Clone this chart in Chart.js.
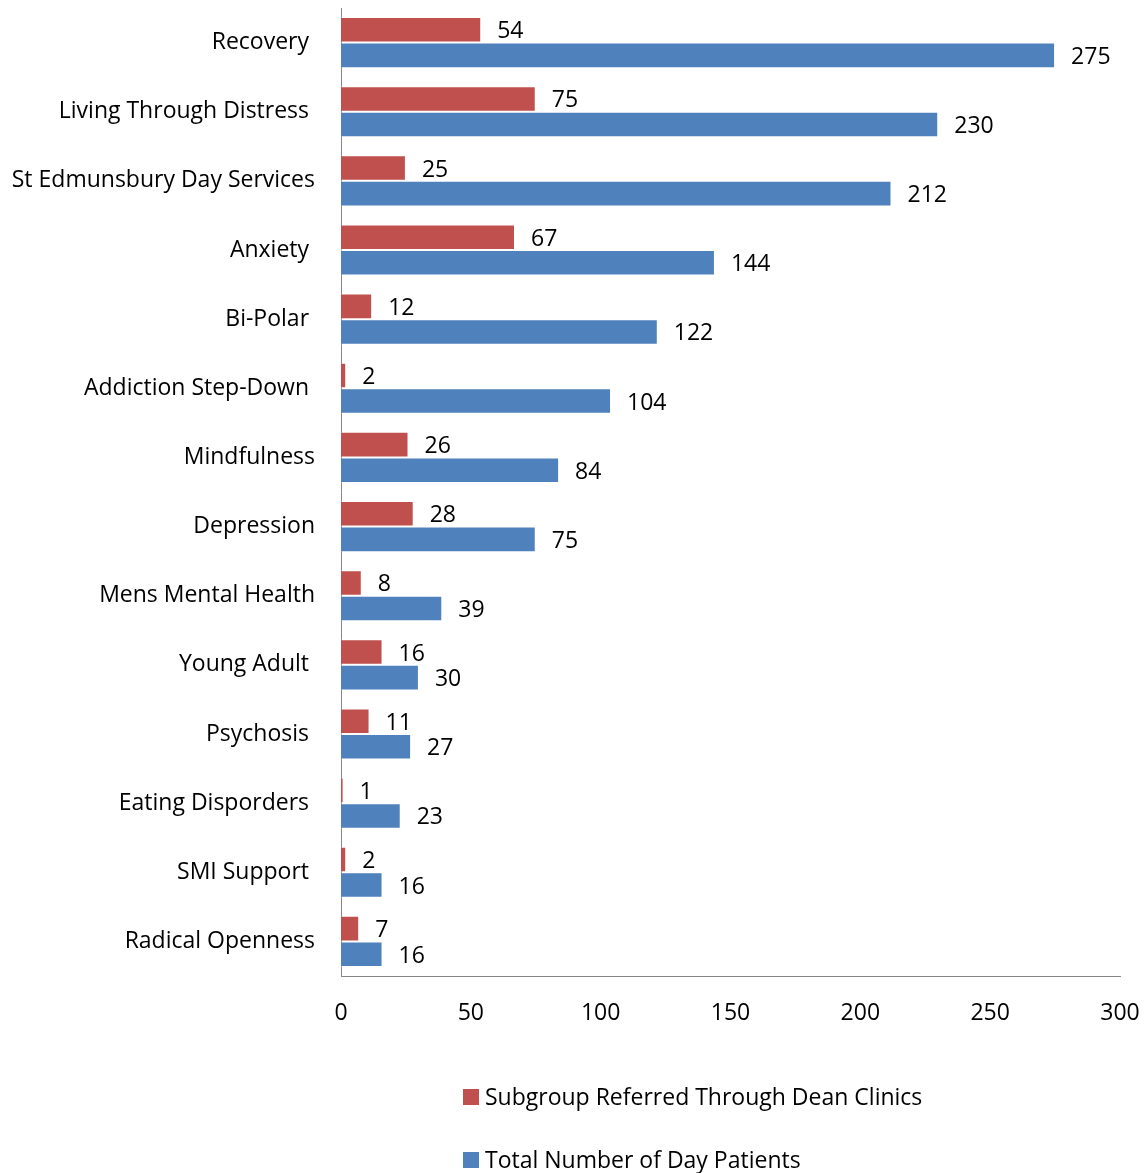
<!DOCTYPE html>
<html>
<head>
<meta charset="utf-8">
<script src="https://cdn.jsdelivr.net/npm/chart.js@4.4.1/dist/chart.umd.min.js"></script>
<style>
  html, body { margin: 0; padding: 0; background: #ffffff; }
  #wrap { position: relative; width: 1148px; height: 1173px; }
</style>
</head>
<body>
<div id="wrap"><canvas id="chart" width="1148" height="1173"></canvas></div>
<script>
// Day-service groups (some labels carry a trailing space as in the source sheet)
const categories = [
  "Recovery ", "Living Through Distress ", "St Edmunsbury Day Services", "Anxiety ",
  "Bi-Polar ", "Addiction Step-Down ", "Mindfulness", "Depression",
  "Mens Mental Health", "Young Adult ", "Psychosis ", "Eating Disporders ",
  "SMI Support ", "Radical Openness"
];
const subgroupLabel = "Subgroup Referred Through Dean Clinics";
const subgroupValues = [54, 75, 25, 67, 12, 2, 26, 28, 8, 16, 11, 1, 2, 7];
const totalLabel = "Total Number of Day Patients";
const totalValues = [275, 230, 212, 144, 122, 104, 84, 75, 39, 30, 27, 23, 16, 16];
const xTicks = [0, 50, 100, 150, 200, 250, 300];

const FONT = "'Open Sans', Lato, sans-serif";
const FONT_SIZE = 23;
const RED = "#C0504D";
const BLUE = "#4F81BD";

// Value printed just past the end of each bar
const valueLabels = {
  id: "valueLabels",
  afterDatasetsDraw(chart) {
    const ctx = chart.ctx;
    ctx.save();
    ctx.font = FONT_SIZE + "px " + FONT;
    ctx.fillStyle = "#000";
    ctx.textAlign = "left";
    ctx.textBaseline = "middle";
    chart.data.datasets.forEach((ds, i) => {
      const meta = chart.getDatasetMeta(i);
      meta.data.forEach((bar, j) => {
        ctx.fillText(String(ds.data[j]), bar.x + 16, bar.y + 2);
      });
    });
    ctx.restore();
  }
};

// Legend stacked in one column below the axis
const stackedLegend = {
  id: "stackedLegend",
  afterDraw(chart) {
    const ctx = chart.ctx;
    ctx.save();
    ctx.font = FONT_SIZE + "px " + FONT;
    ctx.textAlign = "left";
    ctx.textBaseline = "middle";
    const rows = [1097, 1160];
    chart.data.datasets.forEach((ds, i) => {
      const y = rows[i];
      ctx.fillStyle = ds.backgroundColor;
      ctx.fillRect(463, y - 8, 16, 16);
      ctx.fillStyle = "#000";
      ctx.fillText(ds.label, 485, y + 1);
    });
    ctx.restore();
  }
};

new Chart(document.getElementById("chart"), {
  type: "bar",
  data: {
    labels: categories,
    datasets: [
      { label: subgroupLabel, data: subgroupValues, backgroundColor: RED,
        borderColor: "rgba(255,255,255,0.35)", borderWidth: 1 },
      { label: totalLabel, data: totalValues, backgroundColor: BLUE,
        borderColor: "rgba(255,255,255,0.35)", borderWidth: 1 }
    ]
  },
  options: {
    indexAxis: "y",
    responsive: false,
    animation: false,
    events: [],
    layout: { padding: { top: 8, right: 28, bottom: 137, left: 0 } },
    datasets: { bar: { categoryPercentage: 0.74, barPercentage: 1.0 } },
    plugins: {
      legend: { display: false },
      tooltip: { enabled: false }
    },
    scales: {
      x: {
        min: 0, max: 300,
        afterBuildTicks(scale) { scale.ticks = xTicks.map(v => ({ value: v })); },
        afterFit(scale) { scale.height = 60; scale.paddingLeft = 0; scale.paddingRight = 0; },
        grid: { display: false, drawTicks: false },
        border: { display: true, color: "#868686", width: 1 },
        ticks: { color: "#000", font: { family: FONT, size: FONT_SIZE }, padding: 24, maxRotation: 0 }
      },
      y: {
        afterFit(scale) { scale.width = 341; scale.paddingTop = 0; scale.paddingBottom = 0; },
        grid: { display: false, drawTicks: false },
        border: { display: true, color: "#868686", width: 1 },
        ticks: { color: "#000", font: { family: FONT, size: FONT_SIZE }, padding: 26, autoSkip: false }
      }
    }
  },
  plugins: [valueLabels, stackedLegend]
});
</script>
</body>
</html>
